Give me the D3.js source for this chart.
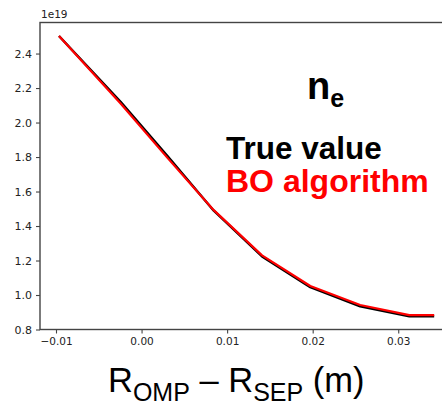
<!DOCTYPE html>
<html>
<head>
<meta charset="utf-8">
<script src="https://cdn.jsdelivr.net/npm/d3@7"></script>
<style>
  html, body { margin: 0; padding: 0; background: #fff; }
  svg { display: block; }
</style>
</head>
<body>
<svg id="chart" width="442" height="406"></svg>
<script>
// Radial position relative to the separatrix (m)
const positions = [-0.00965, -0.00245, 0.00303, 0.00844, 0.01408, 0.01972, 0.02555, 0.0313, 0.0342];
// Electron density, in units of 1e19 m^-3
const trueValue = [2.502, 2.120, 1.806, 1.489, 1.224, 1.045, 0.934, 0.877, 0.877];
const boValue   = [2.502, 2.110, 1.795, 1.492, 1.230, 1.052, 0.942, 0.883, 0.883];
const xTicks = [-0.01, 0.00, 0.01, 0.02, 0.03];
const yTicks = [0.8, 1.0, 1.2, 1.4, 1.6, 1.8, 2.0, 2.2, 2.4];

const svg = d3.select("#chart");
const plotLeft = 40, plotTop = 22.5, plotRight = 453, plotBottom = 329.5;

const x = d3.scaleLinear().domain([-0.01187, 0.0364]).range([plotLeft, plotRight]);
const y = d3.scaleLinear().domain([0.8, 2.58]).range([plotBottom, plotTop]);

// Axes
const xAxis = d3.axisBottom(x).tickValues(xTicks).tickSize(4).tickPadding(4)
  .tickFormat(d => d3.format(".2f")(d).replace("-", "\u2212"));
const yAxis = d3.axisLeft(y).tickValues(yTicks).tickSize(4).tickPadding(4)
  .tickFormat(d3.format(".1f"));

const gx = svg.append("g").attr("transform", `translate(0,${plotBottom})`).call(xAxis);
const gy = svg.append("g").attr("transform", `translate(${plotLeft},0)`).call(yAxis);
gx.select(".domain").remove();
gy.select(".domain").remove();
gx.selectAll("text").attr("font-family", "DejaVu Sans").attr("font-size", 10.5).attr("fill", "#222");
gy.selectAll("text").attr("font-family", "DejaVu Sans").attr("font-size", 11).attr("fill", "#222");
svg.selectAll(".tick line").attr("stroke", "#444").attr("stroke-width", 1.1);

// Frame
svg.append("rect")
  .attr("x", plotLeft).attr("y", plotTop)
  .attr("width", plotRight - plotLeft).attr("height", plotBottom - plotTop)
  .attr("fill", "none").attr("stroke", "#444").attr("stroke-width", 1.4);

// Offset text
svg.append("text").attr("x", 41).attr("y", 18)
  .attr("font-family", "DejaVu Sans").attr("font-size", 10.5).attr("fill", "#222")
  .text("1e19");

// Profiles
const line = vals => d3.line().x((d, i) => x(positions[i])).y(d => y(d))(vals);
svg.append("path").attr("d", line(trueValue))
  .attr("fill", "none").attr("stroke", "#000").attr("stroke-width", 2.4)
  .attr("stroke-linejoin", "round");
svg.append("path").attr("d", line(boValue))
  .attr("fill", "none").attr("stroke", "#ff0000").attr("stroke-width", 2.2)
  .attr("stroke-linejoin", "round");

// Annotations
const ne = svg.append("text").attr("x", 307).attr("y", 99)
  .attr("font-family", "Liberation Sans").attr("font-weight", "bold")
  .attr("font-size", 38).attr("fill", "#000");
ne.append("tspan").text("n");
ne.append("tspan").attr("font-size", 25).attr("dy", 8).text("e");

svg.append("text").attr("x", 226).attr("y", 159)
  .attr("font-family", "Liberation Sans").attr("font-weight", "bold")
  .attr("font-size", 31.5).attr("fill", "#000").text("True value");
svg.append("text").attr("x", 226).attr("y", 192)
  .attr("font-family", "Liberation Sans").attr("font-weight", "bold")
  .attr("font-size", 32).attr("fill", "#ff0000").text("BO algorithm");

// X axis title
const xt = svg.append("text").attr("x", 108).attr("y", 392)
  .attr("font-family", "Liberation Sans").attr("font-size", 34.5).attr("fill", "#000");
xt.append("tspan").text("R");
xt.append("tspan").attr("font-size", 25).attr("dy", 8.5).text("OMP");
xt.append("tspan").attr("dy", -8.5).text(" \u2013 R");
xt.append("tspan").attr("font-size", 25).attr("dy", 8.5).text("SEP");
xt.append("tspan").attr("dy", -8.5).text(" (m)");
</script>
</body>
</html>
